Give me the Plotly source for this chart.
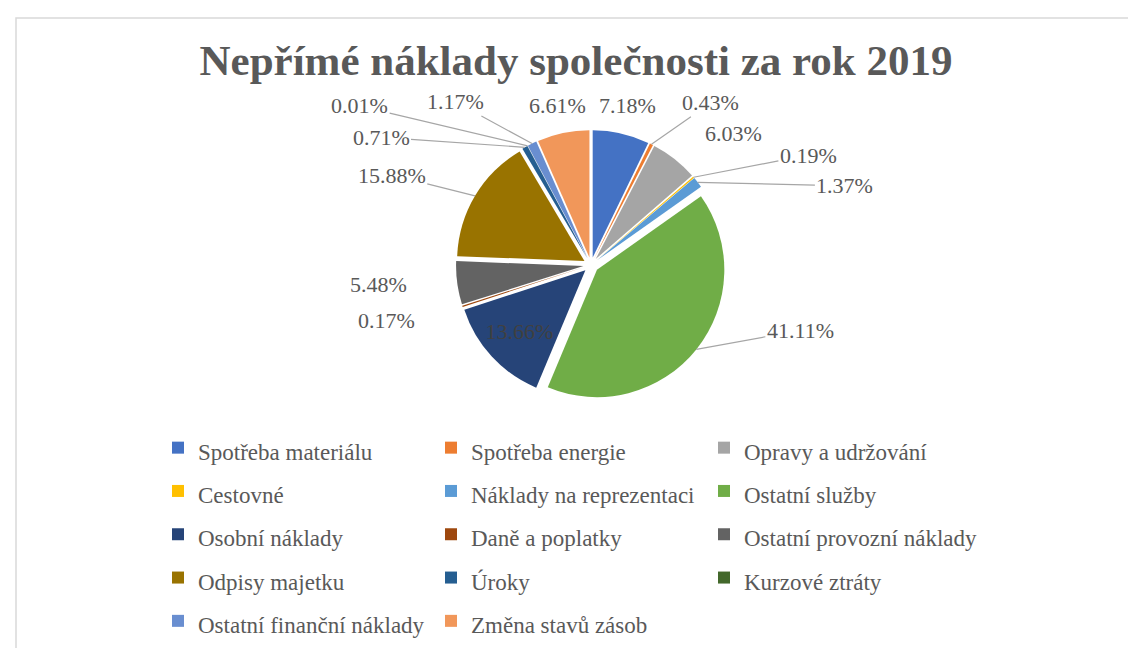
import math
import plotly.graph_objects as go

categories = [
    "Spotřeba materiálu", "Spotřeba energie", "Opravy a udržování",
    "Cestovné", "Náklady na reprezentaci", "Ostatní služby",
    "Osobní náklady", "Daně a poplatky", "Ostatní provozní náklady",
    "Odpisy majetku", "Úroky", "Kurzové ztráty",
    "Ostatní finanční náklady", "Změna stavů zásob",
]
shares = [7.18, 0.43, 6.03, 0.19, 1.37, 41.11, 13.66, 0.17, 5.48, 15.88, 0.71, 0.01, 1.17, 6.61]
colors = [
    "#4472C4", "#ED7D31", "#A5A5A5", "#FFC000", "#5B9BD5", "#70AD47",
    "#264478", "#9E480E", "#636363", "#997300", "#255E91", "#43682B",
    "#698ED0", "#F1975A",
]

# label styling: radial gap, extra nudge (px), leader line flag
label_gap = [22, 30, 20, 30, 30, 25, 0, 20, 20, 20, 20, 20, 20, 22]
nudge_x = [0, 40, 35, 75, 105, 63, 0, -30, -30, -40, -127, -152, -62, 0]
nudge_y = [0, -3, 5, 12, 36, -52, 0, 0, -5, 5, 20, -10, -12, 0]
leader = [False, True, False, True, True, True, False, False, False, True, True, True, True, False]

W, H = 1136, 648
ML, MR = 150, 150           # side margins (keep legend at 3 columns)
PW = W - ML - MR
CX, CY = 583, 257           # pie centre in px
DOM_R = 135                 # domain half-size in px
PULL = 0.06
FONT = "Liberation Serif"
TXT = "#595959"


def xp(px):
    return (px - ML) / PW


def yp(py):
    return 1 - py / H


inside = [c == "Osobní náklady" for c in categories]
legend_labels = [f"<span style='font-size:23px'>{c}</span>" for c in categories]

fig = go.Figure(go.Pie(
    labels=legend_labels,
    values=shares,
    sort=False,
    direction="clockwise",
    rotation=0,
    marker=dict(colors=colors, line=dict(width=0)),
    pull=PULL,
    texttemplate=["%{percent:.2%}" if i else "" for i in inside],
    textposition=["inside" if i else "none" for i in inside],
    textfont=dict(family=FONT, size=22, color="#404040"),
    insidetextorientation="horizontal",
    domain=dict(x=[xp(CX - DOM_R), xp(CX + DOM_R)],
                y=[yp(CY + DOM_R), yp(CY - DOM_R)]),
    hoverinfo="label+percent",
))

# outside labels placed from each slice's mid-angle
total = sum(shares)
r_edge = DOM_R  # pulled slice outer edge == domain radius
cum = 0.0
annotations = []
for i, v in enumerate(shares):
    mid = (cum + v / 2) / total * 2 * math.pi
    cum += v
    if inside[i]:
        continue
    s, c = math.sin(mid), math.cos(mid)
    px, py = CX + r_edge * s, CY - r_edge * c
    txt = f"{v / total * 100:.2f}%"
    half_w = len(txt) * 5.9
    d = label_gap[i] + half_w * abs(s)
    dx = d * s + nudge_x[i]
    dy = -d * c + nudge_y[i]
    common = dict(x=xp(px), y=yp(py), xref="paper", yref="paper", text=txt,
                  font=dict(family=FONT, size=22, color=TXT))
    if leader[i]:
        annotations.append(dict(**common, showarrow=True, arrowhead=0, arrowwidth=1.2,
                                arrowcolor="#A6A6A6", ax=dx, ay=dy, standoff=0,
                                xanchor="center", yanchor="middle"))
    else:
        annotations.append(dict(**common, showarrow=False, xshift=dx, yshift=-dy,
                                xanchor="center", yanchor="middle"))

fig.update_layout(
    width=W, height=H,
    margin=dict(l=ML, r=MR, t=0, b=0, autoexpand=False),
    paper_bgcolor="white",
    font=dict(family=FONT, color=TXT),
    title=dict(
        text="<b>Nepřímé náklady společnosti za rok 2019</b>",
        x=0.5, xanchor="center", y=1 - 52 / H, yanchor="middle",
        font=dict(family=FONT, size=43, color=TXT),
    ),
    legend=dict(
        orientation="h",
        x=0, xanchor="left",
        y=yp(413), yanchor="top",
        entrywidth=228, entrywidthmode="pixels",
        font=dict(family=FONT, size=31, color=TXT),
        itemwidth=30,
        traceorder="normal",
    ),
    annotations=annotations,
    shapes=[dict(type="rect", xref="paper", yref="paper",
                 x0=xp(8), x1=xp(W + 20), y0=yp(H + 20), y1=yp(10),
                 line=dict(color="#D9D9D9", width=1.5), fillcolor="rgba(0,0,0,0)")],
)

fig.write_html("out.html")
